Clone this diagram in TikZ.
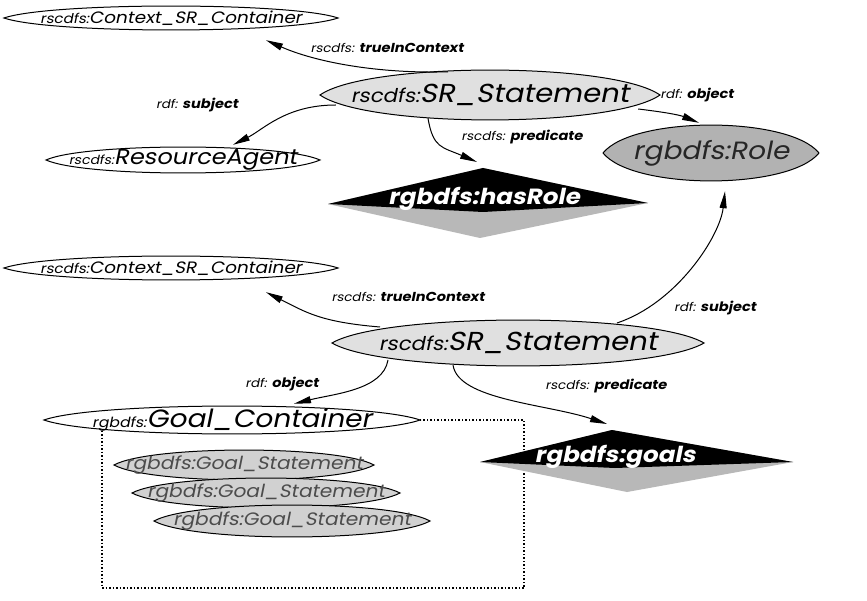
\documentclass[tikz,border=0pt]{standalone}
\usepackage{fontspec}
\setmainfont{Poppins}
\newfontfamily\geo[FakeSlant=0.2, FakeStretch=1.12]{Poppins}
\usetikzlibrary{arrows.meta,calc,shapes.geometric}

% font size helper: \fs{size}{text}
\newcommand\fs[2]{{\fontsize{#1}{#1}\selectfont #2}}

% lens-shaped class node: name, x, y, rx, ry, fill, text colour, content
% (the text sits in its own node, so the lens node keeps the lens size)
\newcommand\lensnode[8]{%
  \path[lensline, fill=#6] (#2-#4,#3)
    .. controls (#2-0.72*#4,#3-1.33*#5) and (#2+0.72*#4,#3-1.33*#5) .. (#2+#4,#3)
    .. controls (#2+0.72*#4,#3+1.33*#5) and (#2-0.72*#4,#3+1.33*#5) .. cycle;
  \node[hit, minimum width=2*#4pt, minimum height=2*#5pt] (#1) at (#2,#3) {};
  \node[text=#7, inner sep=0pt] (#1-text) at (#1.center) {\geo #8};
}

\begin{document}
\begin{tikzpicture}[x=1pt, y=-1pt,
  lensline/.style={draw=black, line width=1pt},
  hit/.style={ellipse, inner sep=0pt, draw=none},
  rel/.style={-{Triangle[length=17pt,width=7pt]}, line width=1pt},
  lab/.style={inner sep=1pt, font=\geo},
  proptext/.style={inner sep=0pt, text=white, font=\geo\bfseries},
  shade/.style={fill=black!28},
  dark/.style={fill=black}
]
\useasboundingbox (0,0) rectangle (867,601);
\fill[white] (0,0) rectangle (867,601);

% ---------- upper statement ----------
\lensnode{ctx1}{171}{18}{167}{12}{white}{black}{\fs{13.5}{rscdfs:}\fs{16.5}{Context\_SR\_Container}}
\lensnode{sr1}{490}{95}{170}{25}{black!12}{black}{\fs{19}{rscdfs:}\fs{26}{SR\_Statement}}
\lensnode{agent}{183}{160}{137}{13}{white}{black}{\fs{12.5}{rscdfs:}\fs{21.5}{ResourceAgent}}
\lensnode{role}{711}{153}{108}{28}{black!30}{black!85}{\fs{25}{rgbdfs:Role}}

% property diamond rgbdfs:hasRole
\coordinate (hrL) at (328,204);
\coordinate (hrT) at (483,168);
\coordinate (hrR) at (648,203);
\coordinate (hrB) at (480,238);
\fill[shade] (hrL) -- (hrT) -- (hrR) -- (hrB) -- cycle;
\fill[dark] (hrL) -- (hrT) -- (hrR) -- (483,212) -- cycle;
\node[proptext] (hasrole) at (484,199) {\fs{22}{rgbdfs:hasRole}};

% ---------- lower statement ----------
\lensnode{ctx2}{171}{268}{167}{12}{white}{black}{\fs{13.5}{rscdfs:}\fs{16.5}{Context\_SR\_Container}}
\lensnode{sr2}{518}{343}{186}{23}{black!12}{black}{\fs{19}{rscdfs:}\fs{26}{SR\_Statement}}

% container of goal statements
\draw[dotted, line width=1.5pt] (102,420) rectangle (524,588);
\lensnode{goalc}{232}{420}{188}{14}{white}{black}{\fs{14}{rgbdfs:}\fs{25}{Goal\_Container}}
\lensnode{gs1}{244}{465}{130}{15}{black!18}{black!70}{\fs{18}{rgbdfs:Goal\_Statement}}
\lensnode{gs2}{266}{493}{134}{15}{black!18}{black!70}{\fs{18}{rgbdfs:Goal\_Statement}}
\lensnode{gs3}{292}{521}{138}{16}{black!18}{black!70}{\fs{18}{rgbdfs:Goal\_Statement}}

% property diamond rgbdfs:goals
\coordinate (goL) at (480,462);
\coordinate (goT) at (612,430);
\coordinate (goR) at (793,462);
\coordinate (goB) at (627,492);
\fill[shade] (goL) -- (goT) -- (goR) -- (goB) -- cycle;
\fill[dark] (goL) -- (goT) -- (goR) -- (615,468) -- cycle;
\node[proptext] (goals) at (615,457) {\fs{22}{rgbdfs:goals}};

% ---------- relations of the upper statement ----------
\draw[rel] ($(sr1.north)+(-42,2)$) .. controls +(-70,2) and +(50,22) .. ($(ctx1.south)+(95,10)$);
\draw[rel] ($(sr1.west)+(16,10)$) .. controls +(-50,0) and +(30,-15) .. ($(agent.north)+(50,-2)$);
\draw[rel] ($(sr1.south)+(-62,-2)$) .. controls +(5,30) and +(-35,-15) .. ($(hrT)+(-6,-6)$);
\draw[rel] ($(sr1.east)+(-22,14)$) .. controls +(25,3) and +(-20,-8) .. ($(role.north)+(-12,-2)$);

\node[lab] (l1) at (387,48) {\fs{12}{rscdfs: }\fs{13}{\bfseries trueInContext}};
\node[lab] (l2) at (197,105) {\fs{12}{rdf: }\fs{13}{\bfseries subject}};
\node[lab] (l3) at (522,137) {\fs{12}{rscdfs: }\fs{13}{\bfseries predicate}};
\node[lab] (l4) at (697,95) {\fs{12}{rdf: }\fs{13}{\bfseries object}};

% ---------- relations of the lower statement ----------
\draw[rel] ($(sr2.center)+(-138,-16)$) .. controls +(-60,-5) and +(40,20) .. ($(ctx2.south)+(95,12)$);
\draw[rel] ($(sr2.center)+(99,-20)$) .. controls +(60,-20) and +(-5,45) .. ($(role.south)+(14,10)$);
\draw[rel] ($(sr2.center)+(-130,17)$) .. controls +(-5,30) and +(40,-10) .. ($(goalc.north)+(62,-2)$);
\draw[rel] ($(sr2.center)+(-65,22)$) .. controls +(5,35) and +(-60,-20) .. ($(goT)+(-5,-6)$);

\node[lab] (l5) at (408,297) {\fs{12}{rscdfs: }\fs{13}{\bfseries trueInContext}};
\node[lab] (l6) at (715,308) {\fs{12}{rdf: }\fs{13}{\bfseries subject}};
\node[lab] (l7) at (282,384) {\fs{12}{rdf: }\fs{13}{\bfseries object}};
\node[lab] (l8) at (606,386) {\fs{12}{rscdfs: }\fs{13}{\bfseries predicate}};
\end{tikzpicture}
\end{document}
